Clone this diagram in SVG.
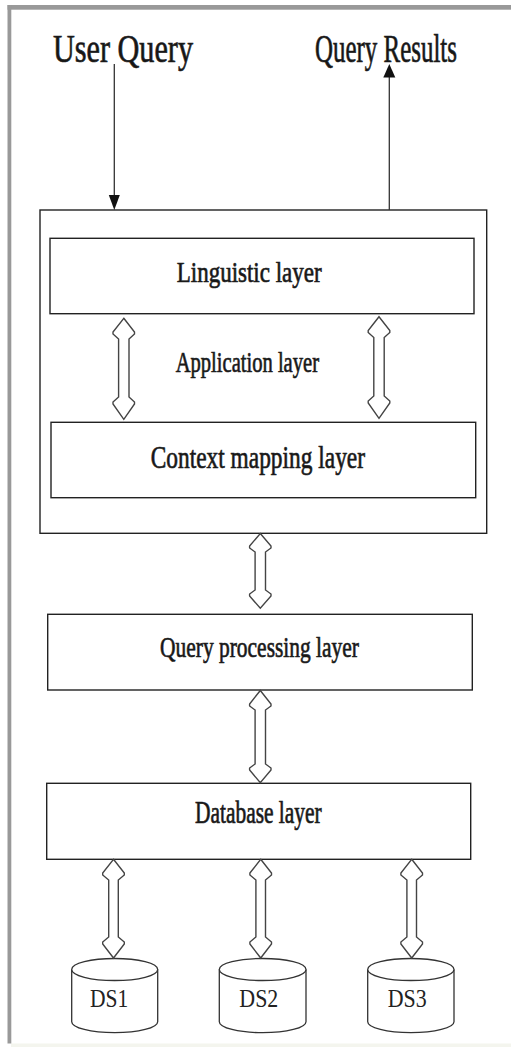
<svg xmlns="http://www.w3.org/2000/svg" width="511" height="1047" viewBox="0 0 511 1047">
  <defs>
    <style>
      .box { fill: #ffffff; stroke: #222222; stroke-width: 1.4; }
      .dbl { fill: #ffffff; stroke: #444444; stroke-width: 1.4; stroke-linejoin: miter; }
      .wire { fill: none; stroke: #333333; stroke-width: 1.3; }
      .head { fill: #111111; stroke: none; }
      .lbl { font-family: "Liberation Serif", "Times New Roman", serif; fill: #161616; }
      .heavy { stroke: #222222; stroke-width: 0.7; }
      .big { font-size: 40px; }
      .mid { font-size: 30px; }
      .ds { font-size: 26px; fill: #222222; }
      .cyl { fill: #ffffff; stroke: #333333; stroke-width: 1.3; }
    </style>
  </defs>

  <!-- page background and frame -->
  <rect x="0" y="0" width="511" height="1047" fill="#ffffff"/>
  <rect x="11" y="1043.5" width="500" height="3.5" fill="#f4f5ee"/>
  <rect x="7.5" y="5" width="503.5" height="4.7" fill="#999999"/>
  <rect x="7.5" y="5" width="3.8" height="1038.5" fill="#999999"/>

  <!-- external labels -->
  <g id="user-query">
    <text class="lbl big heavy" x="53" y="61.7" textLength="140" lengthAdjust="spacingAndGlyphs">User Query</text>
  </g>
  <g id="query-results">
    <text class="lbl big heavy" x="315" y="61.7" textLength="142" lengthAdjust="spacingAndGlyphs">Query Results</text>
  </g>

  <!-- application layer container -->
  <g id="application-layer">
    <rect class="box" x="40" y="210" width="446.7" height="323.3"/>
    <text class="lbl mid heavy" x="175.7" y="371.7" textLength="143.3" lengthAdjust="spacingAndGlyphs">Application layer</text>
  </g>

  <g id="linguistic-layer">
    <rect class="box" x="50" y="238.3" width="424" height="75.4"/>
    <text class="lbl mid heavy" x="176.7" y="281.7" textLength="145" lengthAdjust="spacingAndGlyphs">Linguistic layer</text>
  </g>

  <g id="context-mapping-layer">
    <rect class="box" x="51" y="422.3" width="424.7" height="75.4"/>
    <text class="lbl heavy" font-size="32" x="150.7" y="468.3" textLength="214.3" lengthAdjust="spacingAndGlyphs">Context mapping layer</text>
  </g>

  <g id="query-processing-layer">
    <rect class="box" x="47.7" y="614.3" width="424.6" height="75.7"/>
    <text class="lbl mid heavy" x="160" y="656.7" textLength="199" lengthAdjust="spacingAndGlyphs">Query processing layer</text>
  </g>

  <g id="database-layer">
    <rect class="box" x="46.7" y="783.3" width="424" height="76"/>
    <text class="lbl heavy" font-size="31" x="195" y="823.3" textLength="126.7" lengthAdjust="spacingAndGlyphs">Database layer</text>
  </g>

  <!-- data stores -->
  <g id="ds1">
    <path class="cyl" d="M71.7,969.5 L71.7,1021.7 A43,11 0 0 0 157.7,1021.7 L157.7,969.5"/>
    <ellipse class="cyl" cx="114.7" cy="969.5" rx="43" ry="11"/>
    <text class="lbl ds" x="90" y="1006.7" textLength="38.3" lengthAdjust="spacingAndGlyphs">DS1</text>
  </g>
  <g id="ds2">
    <path class="cyl" d="M219.3,969.5 L219.3,1021.7 A43.35,11 0 0 0 306,1021.7 L306,969.5"/>
    <ellipse class="cyl" cx="262.65" cy="969.5" rx="43.35" ry="11"/>
    <text class="lbl ds" x="239.3" y="1006.7" textLength="39" lengthAdjust="spacingAndGlyphs">DS2</text>
  </g>
  <g id="ds3">
    <path class="cyl" d="M367.7,969.5 L367.7,1021.7 A43.15,11 0 0 0 454,1021.7 L454,969.5"/>
    <ellipse class="cyl" cx="410.85" cy="969.5" rx="43.15" ry="11"/>
    <text class="lbl ds" x="387.7" y="1006.7" textLength="39" lengthAdjust="spacingAndGlyphs">DS3</text>
  </g>

  <!-- connectors -->
  <g id="connectors">
    <!-- query in / results out -->
    <line class="wire" x1="114.3" y1="64" x2="114.3" y2="197"/>
    <polygon class="head" points="108.8,195 119.8,195 114.3,210"/>
    <line class="wire" x1="389.3" y1="210" x2="389.3" y2="75"/>
    <polygon class="head" points="383.3,77.5 395.3,77.5 389.3,64"/>

    <!-- hollow double-headed arrows -->
    <path class="dbl" d="M123.8,318.3 L134.5,332 L134.5,334 L129,339 L129,397 L134.5,402 L134.5,404 L123.8,419.3 L113,404 L113,402 L118.6,397 L118.6,339 L113,334 L113,332 Z"/>
    <path class="dbl" d="M379,316.7 L389.8,330.5 L389.8,332.5 L384.2,337.5 L384.2,396 L389.8,401 L389.8,403 L379,418.3 L368.2,403 L368.2,401 L373.8,396 L373.8,337.5 L368.2,332.5 L368.2,330.5 Z"/>
    <path class="dbl" d="M260.3,533.5 L271,546 L271,548 L265.5,552 L265.5,590 L271,594 L271,596 L260.3,608.3 L249.6,596 L249.6,594 L255.1,590 L255.1,552 L249.6,548 L249.6,546 Z"/>
    <path class="dbl" d="M260.3,690.5 L271,704 L271,706 L265.5,710 L265.5,764 L271,768 L271,770 L260.3,782.7 L249.6,770 L249.6,768 L255.1,764 L255.1,710 L249.6,706 L249.6,704 Z"/>
    <path class="dbl" d="M113.5,859.3 L124.3,873 L124.3,875 L118.3,880 L118.3,937 L124.3,942 L124.3,944 L113.5,958 L102.7,944 L102.7,942 L108.7,937 L108.7,880 L102.7,875 L102.7,873 Z"/>
    <path class="dbl" d="M260.7,859.3 L271.5,873 L271.5,875 L265.5,880 L265.5,937 L271.5,942 L271.5,944 L260.7,958 L249.9,944 L249.9,942 L255.9,937 L255.9,880 L249.9,875 L249.9,873 Z"/>
    <path class="dbl" d="M411.7,859.3 L422.5,873 L422.5,875 L416.5,880 L416.5,937 L422.5,942 L422.5,944 L411.7,958 L400.9,944 L400.9,942 L406.9,937 L406.9,880 L400.9,875 L400.9,873 Z"/>
  </g>
</svg>
